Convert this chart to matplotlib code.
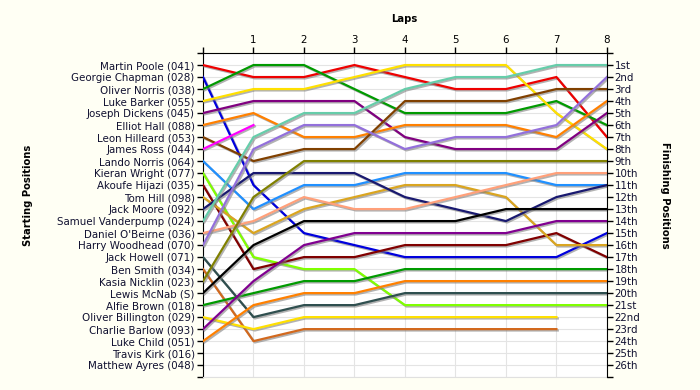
import numpy as np
import matplotlib.pyplot as plt
import matplotlib.patheffects as pe

laps = [0, 1, 2, 3, 4, 5, 6, 7, 8]

drivers = ["Martin Poole (041)", "Georgie Chapman (028)", "Oliver Norris (038)",
           "Luke Barker (055)", "Joseph Dickens (045)", "Elliot Hall (088)",
           "Leon Hilleard (053)", "James Ross (044)", "Lando Norris (064)",
           "Kieran Wright (077)", "Akoufe Hijazi (035)", "Tom Hill (098)",
           "Jack Moore (092)", "Samuel Vanderpump (024)", "Daniel O'Beirne (036)",
           "Harry Woodhead (070)", "Jack Howell (071)", "Ben Smith (034)",
           "Kasia Nicklin (023)", "Lewis McNab (S)", "Alfie Brown (018)",
           "Oliver Billington (029)", "Charlie Barlow (093)", "Luke Child (051)",
           "Travis Kirk (016)", "Matthew Ayres (048)"]

finish_labels = ["1st", "2nd", "3rd", "4th", "5th", "6th", "7th", "8th", "9th",
                 "10th", "11th", "12th", "13th", "14th", "15th", "16th", "17th",
                 "18th", "19th", "20th", "21st", "22nd", "23rd", "24th", "25th", "26th"]

n = None
# position of each driver after every lap (lap 0 = grid)
positions = [
    [1, 2, 2, 1, 2, 3, 3, 2, 7],
    [2, 11, 15, 16, 17, 17, 17, 17, 15],
    [3, 1, 1, 3, 5, 5, 5, 4, 6],
    [4, 3, 3, 2, 1, 1, 1, 5, 8],
    [5, 4, 4, 4, 7, 8, 8, 8, 5],
    [6, 5, 7, 7, 6, 6, 6, 7, 4],
    [7, 9, 8, 8, 4, 4, 4, 3, 3],
    [8, 6, n, n, n, n, n, n, n],
    [9, 13, 11, 11, 10, 10, 10, 11, 11],
    [10, 17, 18, 18, 21, 21, 21, 21, 21],
    [11, 18, 17, 17, 16, 16, 16, 15, 17],
    [12, 15, 13, 12, 11, 11, 12, 16, 16],
    [13, 10, 10, 10, 12, 13, 14, 12, 11],
    [14, 7, 5, 5, 3, 2, 2, 1, 1],
    [15, 14, 12, 13, 13, 12, 11, 10, 10],
    [16, 8, 6, 6, 8, 7, 7, 6, 2],
    [17, 22, 21, 21, 20, 20, 20, 20, 20],
    [18, 24, 23, 23, 23, 23, 23, 23, n],
    [19, 12, 9, 9, 9, 9, 9, 9, 9],
    [20, 16, 14, 14, 14, 14, 13, 13, 13],
    [21, 20, 19, 19, 18, 18, 18, 18, 18],
    [22, 23, 22, 22, 22, 22, 22, 22, n],
    [23, 19, 16, 15, 15, 15, 15, 14, 14],
    [24, 21, 20, 20, 19, 19, 19, 19, 19],
    [n] * 9,
    [n] * 9,
]

colors = ["#ee0000", "#0000dd", "#009a00", "#ffe000", "#800080", "#ff8000",
          "#804000", "#ff00ff", "#2090ff", "#80ff00", "#800000", "#daa520",
          "#191970", "#66cdaa", "#ffa07a", "#9370db", "#2f4f4f", "#d2691e",
          "#808000", "#000000", "#009a00", "#ffe000", "#800090", "#ff8000",
          "#000000", "#000000"]

bg = "#fffff4"
fig, ax = plt.subplots(figsize=(7, 3.9), dpi=100, facecolor=bg)
fig.subplots_adjust(left=0.29, right=0.867, top=0.864, bottom=0.033)
ax.set_facecolor("white")

shadow = [pe.SimpleLineShadow(offset=(1, -1), shadow_color="gray", alpha=0.6), pe.Normal()]
for pos, c in zip(positions, colors):
    y = np.array([np.nan if p is None else p for p in pos], dtype=float)
    if np.all(np.isnan(y)):
        continue
    ax.plot(laps, y, color=c, lw=1.6, path_effects=shadow, zorder=3)

fs = 7.4
ax.set_xlim(0, 8)
ax.set_ylim(27, 0)
ax.set_xticks(laps)
ax.set_xticklabels([""] + [str(l) for l in laps[1:]], fontsize=fs)
ax.xaxis.tick_top()
ax.set_yticks(range(28))
ax.set_yticklabels([""] + drivers + [""], fontsize=fs, color="#101030")
ax.tick_params(axis="both", length=4, width=1, pad=2)
ax.grid(color="#e4e4e4", lw=0.8, zorder=0)
ax.spines["bottom"].set_color("#e0e0e0")
ax.spines["right"].set_visible(False)

ax2 = ax.twinx()
ax2.set_ylim(27, 0)
ax2.set_yticks(range(28))
ax2.set_yticklabels([""] + finish_labels + [""], fontsize=fs, color="#101030")
ax2.tick_params(axis="y", length=4, width=1, pad=1.5)
for s in ["top", "left", "bottom"]:
    ax2.spines[s].set_visible(False)

fig.text(0.578, 0.952, "Laps", ha="center", va="center", fontsize=7.2, fontweight="bold")
fig.text(0.04, 0.5, "Starting Positions", ha="center", va="center", rotation=90,
         fontsize=7.2, fontweight="bold")
fig.text(0.95, 0.5, "Finishing Positions", ha="center", va="center", rotation=270,
         fontsize=7.2, fontweight="bold")

fig.savefig("out.png", dpi=100, facecolor=bg)
